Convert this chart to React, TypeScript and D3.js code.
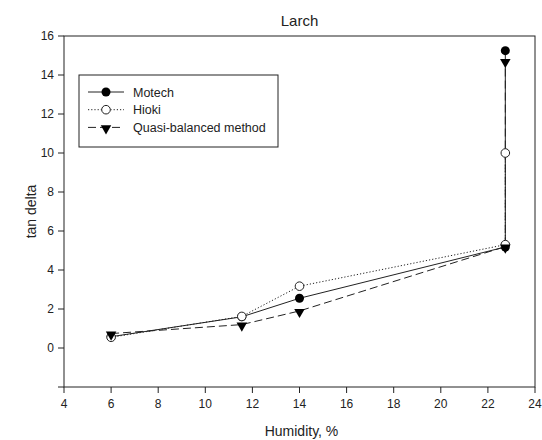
import React from 'react';
import * as d3 from 'd3';

// humidity (%) and tan delta readings per measuring method
const motechX = [6, 11.55, 14, 22.74, 22.74];
const motechY = [0.58, 1.6, 2.55, 5.18, 15.25];
const hiokiX = [6, 11.55, 14, 22.74, 22.74];
const hiokiY = [0.55, 1.62, 3.17, 5.3, 10.0];
const quasiX = [6, 11.55, 14, 22.74, 22.74];
const quasiY = [0.74, 1.2, 1.9, 5.2, 14.72];

const xTicks = [4, 6, 8, 10, 12, 14, 16, 18, 20, 22, 24];
const yTicks = [0, 2, 4, 6, 8, 10, 12, 14, 16];
const legendLabels = ['Motech', 'Hioki', 'Quasi-balanced method'];

const W = 542;
const H = 440;
const margin = { top: 36, right: 7, bottom: 53, left: 64 };
const font = "'Liberation Sans', Arial, sans-serif";
const ink = '#222';

const App = () => {
  const x = d3.scaleLinear().domain([4, 24]).range([margin.left, W - margin.right]);
  const y = d3.scaleLinear().domain([-2, 16]).range([H - margin.bottom, margin.top]);

  const line = d3
    .line<[number, number]>()
    .x(d => x(d[0]))
    .y(d => y(d[1]));

  const series = [
    { name: legendLabels[0], xs: motechX, ys: motechY, dash: undefined, marker: 'dot' },
    { name: legendLabels[1], xs: hiokiX, ys: hiokiY, dash: '1.2,2', marker: 'open' },
    { name: legendLabels[2], xs: quasiX, ys: quasiY, dash: '8,4', marker: 'tri' },
  ];

  const tri = d3.symbol().type(d3.symbolTriangle).size(48)() as string;

  const marker = (kind: string, cx: number, cy: number, key: string | number) => {
    if (kind === 'dot') return <circle key={key} cx={cx} cy={cy} r={4.5} fill="#000" />;
    if (kind === 'open')
      return <circle key={key} cx={cx} cy={cy} r={4.3} fill="#fff" stroke={ink} strokeWidth={1} />;
    return <path key={key} d={tri} transform={`translate(${cx},${cy + 1}) rotate(180)`} fill="#000" />;
  };

  const bottom = H - margin.bottom;
  const legend = { x: 79, y: 75, w: 199, h: 72 };

  return (
    <svg width={W} height={H} style={{ position: 'absolute', left: 0, top: 0, background: '#fff' }} fontFamily={font}>
      <text x={x(14)} y={26} textAnchor="middle" fontSize={15} fill={ink}>
        Larch
      </text>

      {/* frame */}
      <rect
        x={margin.left}
        y={margin.top}
        width={W - margin.left - margin.right}
        height={bottom - margin.top}
        fill="none"
        stroke={ink}
        strokeWidth={1}
      />

      {/* x axis */}
      {xTicks.map(t => (
        <g key={'x' + t}>
          <line x1={x(t)} x2={x(t)} y1={bottom} y2={bottom + 6} stroke={ink} />
          <text x={x(t)} y={bottom + 21} textAnchor="middle" fontSize={12} fill={ink}>
            {t}
          </text>
        </g>
      ))}
      <text x={x(14) + 2} y={436} textAnchor="middle" fontSize={14} fill={ink}>
        Humidity, %
      </text>

      {/* y axis */}
      {yTicks.map(t => (
        <g key={'y' + t}>
          <line x1={margin.left - 6} x2={margin.left} y1={y(t)} y2={y(t)} stroke={ink} />
          <text x={margin.left - 10} y={y(t) + 4} textAnchor="end" fontSize={12} fill={ink}>
            {t}
          </text>
        </g>
      ))}
      <line x1={margin.left - 6} x2={margin.left} y1={bottom} y2={bottom} stroke={ink} />
      <text
        transform={`translate(36,${y(7)}) rotate(-90)`}
        textAnchor="middle"
        fontSize={14}
        fill={ink}
      >
        tan delta
      </text>

      {/* lines */}
      {series.map(s => (
        <path
          key={'l' + s.name}
          d={line(s.xs.map((v, i) => [v, s.ys[i]] as [number, number])) as string}
          fill="none"
          stroke={ink}
          strokeWidth={1}
          strokeDasharray={s.dash}
        />
      ))}

      {/* markers */}
      {series.map(s => (
        <g key={'m' + s.name}>{s.xs.map((v, i) => marker(s.marker, x(v), y(s.ys[i]), i))}</g>
      ))}

      {/* legend */}
      <rect x={legend.x} y={legend.y} width={legend.w} height={legend.h} fill="#fff" stroke={ink} strokeWidth={1} />
      {series.map((s, i) => {
        const ly = legend.y + 17 + i * 17.7;
        return (
          <g key={'lg' + s.name}>
            <line x1={88} x2={124} y1={ly} y2={ly} stroke={ink} strokeDasharray={s.dash} />
            {marker(s.marker, 106, ly, 'lm')}
            <text x={133} y={ly + 4.5} fontSize={12.5} fill={ink}>
              {s.name}
            </text>
          </g>
        );
      })}
    </svg>
  );
};

export default App;
